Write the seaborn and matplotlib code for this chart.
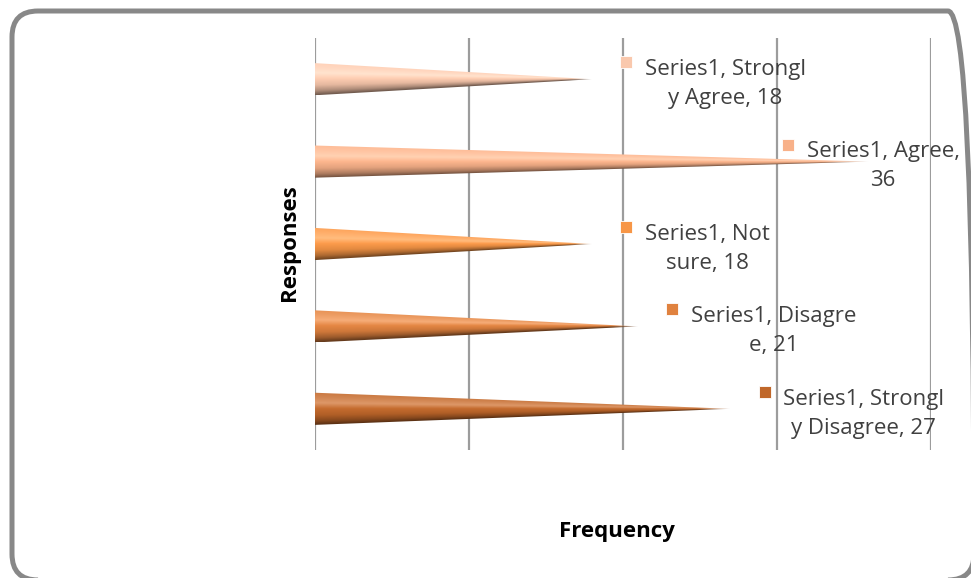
import numpy as np
import pandas as pd
import matplotlib
matplotlib.use("Agg")
import matplotlib.pyplot as plt
import matplotlib.patches as mpatches
import matplotlib.transforms as mtransforms
import seaborn as sns

# Survey responses
categories = ["Strongly Agree", "Agree", "Not sure", "Disagree", "Strongly Disagree"]
frequency = [18, 36, 18, 21, 27]
series_name = "Series1"
label_texts = ["Series1, Strongl\ny Agree, 18",
               "Series1, Agree,\n36",
               "Series1, Not\nsure, 18",
               "Series1, Disagre\ne, 21",
               "Series1, Strongl\ny Disagree, 27"]
cone_colors = ["#F9C8AD", "#F8B189", "#F79646", "#E0823F", "#C0672A"]

sns.set_theme(style="white")
plt.rcParams["font.family"] = ["Open Sans", "DejaVu Sans"]

df = pd.DataFrame({"Responses": categories, "Frequency": frequency})

fig = plt.figure(figsize=(9.71, 5.78), dpi=100)
ax = fig.add_axes([315 / 971, 1 - 450 / 578, 616 / 971, 412 / 578])

sns.barplot(data=df, x="Frequency", y="Responses", orient="h", ax=ax,
            width=0.39, color="white", zorder=2)

# shading profile across the cone (top -> bottom)
s_pts = np.array([-1.0, -0.7, -0.35, 0.0, 0.4, 0.75, 1.0])
k_pts = np.array([0.92, 0.85, 0.78, 1.0, 0.92, 0.70, 0.45])
w_pts = np.array([0.10, 0.18, 0.28, 0.02, 0.0, 0.0, 0.0])


def draw_cone(ax, bar, color):
    v = bar.get_width()
    y0 = bar.get_y()
    h = bar.get_height()
    yc = y0 + h / 2
    half = h / 2
    bar.set_visible(False)
    base = np.array(matplotlib.colors.to_rgb(color))
    nx, ny = 500, 80
    xs = np.linspace(0, v, nx)
    ys = np.linspace(yc - half, yc + half, ny)
    X, Y = np.meshgrid(xs, ys)
    local = np.clip(half * (1 - X / v), 1e-4, None)
    S = np.clip((Y - yc) / local, -1, 1)
    k = np.interp(S, s_pts, k_pts)
    w = np.interp(S, s_pts, w_pts)
    rgb = np.clip(base[None, None, :] * k[..., None] + w[..., None], 0, 1)
    frac = X / v
    alpha = np.clip((1 - frac) / 0.08, 0, 1) ** 0.6
    rgba = np.dstack([rgb, alpha])
    im = ax.imshow(rgba, extent=(0, v, yc + half, yc - half), origin="upper",
                   aspect="auto", interpolation="bilinear", zorder=3)
    tri = mpatches.Polygon([(0, yc - half), (v, yc), (0, yc + half)],
                           closed=True, transform=ax.transData,
                           facecolor="none", edgecolor="none")
    im.set_clip_path(tri)
    return yc


centers = []
for bar, col in zip(ax.patches, cone_colors):
    centers.append(draw_cone(ax, bar, col))

ax.set_xlim(0, 40)
ax.set_ylim(len(categories) - 0.5, -0.5)
ax.set_xticks([0, 10, 20, 30, 40])
ax.set_xticklabels([])
ax.set_yticklabels([])
ax.tick_params(length=0)
ax.grid(axis="x", color="#9C9C9C", linewidth=1.6, zorder=1)
ax.grid(axis="y", visible=False)
ax.set_axisbelow(True)
for sp in ax.spines.values():
    sp.set_visible(False)

# data labels with legend key
key_shift = mtransforms.ScaledTranslation(0, 17 / 100, fig.dpi_scale_trans)
for v, yc, txt, col in zip(frequency, centers, label_texts, cone_colors):
    anchor = min(v + 2.2, 30.7)
    ax.plot([anchor], [yc], marker="s", markersize=8.2, color=col,
            transform=ax.transData + key_shift, zorder=5, clip_on=False,
            markeredgecolor="white", markeredgewidth=0.6, linestyle="none")
    ax.annotate(txt, xy=(anchor, yc), xytext=(13.5, -3.5), textcoords="offset points",
                ha="left", va="center", multialignment="center",
                fontsize=16, color="#404040", linespacing=1.5,
                zorder=6, annotation_clip=False)

ax.set_xlabel("Frequency", fontsize=16, fontweight="bold", color="#000000")
ax.set_ylabel("Responses", fontsize=16, fontweight="bold", color="#000000")
ax.xaxis.set_label_coords((617 - 315) / 616, -(532 - 450) / 412)
ax.xaxis.label.set_va("center")
ax.yaxis.set_label_coords(-(315 - 289) / 616, (450 - 243) / 412)
ax.yaxis.label.set_va("center")

# rounded chart-area border
frame = mpatches.FancyBboxPatch((12, 578 - 580), 962, 569,
                                boxstyle="round,pad=0,rounding_size=26",
                                transform=None, facecolor="none",
                                edgecolor="#888888", linewidth=3.6, zorder=0)
fig.patches.append(frame)

fig.savefig("out.png", dpi=100)
